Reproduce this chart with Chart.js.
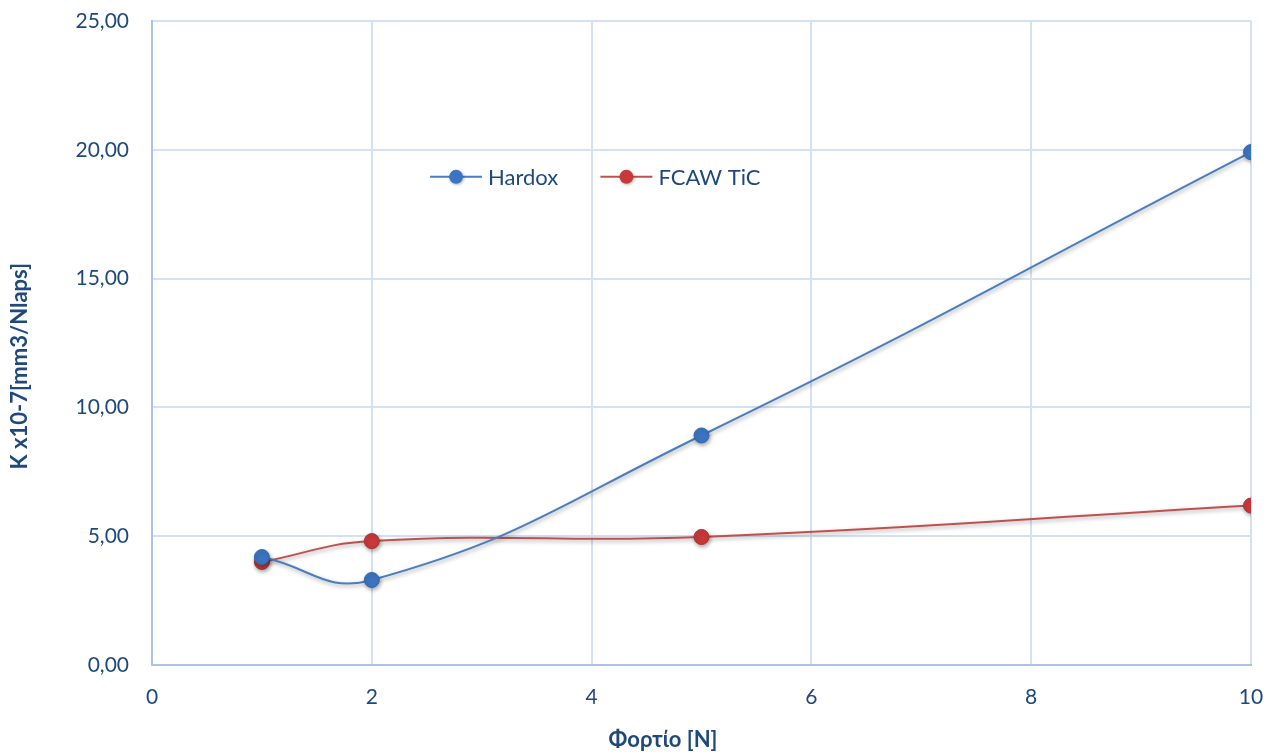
<!DOCTYPE html>
<html>
<head>
<meta charset="utf-8">
<script src="https://cdn.jsdelivr.net/npm/chart.js@4.4.1/dist/chart.umd.min.js"></script>
<style>
  html, body { margin: 0; padding: 0; background: #ffffff; }
  #wrap { width: 1273px; height: 756px; }
</style>
</head>
<body>
<div id="wrap"><canvas id="c" width="1273" height="756"></canvas></div>
<script>
// Load (N) and specific wear rate K x10^-7 [mm3/N·laps]
const loads = [1, 2, 5, 10];
const hardox = [4.19, 3.30, 8.91, 19.91];
const fcawTiC = [4.00, 4.81, 4.97, 6.19];
const seriesNames = ['Hardox', 'FCAW TiC'];
const xTitle = 'Φορτίο [N]';
const yTitle = 'K x10-7[mm3/Nlaps]';

const textColor = '#1f497d';
const gridColor = '#d4e1f4';
const axisColor = '#a9c3ea';
const fontFamily = 'Lato, "Open Sans", "DejaVu Sans", sans-serif';

const toPoints = (ys) => loads.map((x, i) => ({ x: x, y: ys[i] }));

// Soft drop shadow under lines and markers
const shadowPlugin = {
  id: 'shadow',
  beforeDatasetDraw(chart) {
    const ctx = chart.ctx;
    ctx.save();
    ctx.shadowColor = 'rgba(0,0,0,0.35)';
    ctx.shadowBlur = 4;
    ctx.shadowOffsetX = 1;
    ctx.shadowOffsetY = 2;
  },
  afterDatasetDraw(chart) {
    chart.ctx.restore();
  }
};

// Legend drawn inside the plot area, one row
const innerLegend = {
  id: 'innerLegend',
  afterDatasetsDraw(chart) {
    const ctx = chart.ctx;
    const xs = chart.scales.x, ys = chart.scales.y;
    const y = ys.getPixelForValue(18.95);
    const starts = [xs.getPixelForValue(2.53), xs.getPixelForValue(4.08)];
    ctx.save();
    chart.data.datasets.forEach((ds, i) => {
      const x0 = starts[i];
      ctx.strokeStyle = ds.borderColor;
      ctx.lineWidth = 2;
      ctx.beginPath();
      ctx.moveTo(x0, y);
      ctx.lineTo(x0 + 52, y);
      ctx.stroke();
      ctx.save();
      ctx.shadowColor = 'rgba(0,0,0,0.3)';
      ctx.shadowBlur = 3;
      ctx.shadowOffsetX = 1;
      ctx.shadowOffsetY = 1;
      ctx.fillStyle = ds.pointBackgroundColor;
      ctx.beginPath();
      ctx.arc(x0 + 26, y, 7, 0, Math.PI * 2);
      ctx.fill();
      ctx.restore();
      ctx.fillStyle = textColor;
      ctx.font = '22px ' + fontFamily;
      ctx.textAlign = 'left';
      ctx.textBaseline = 'middle';
      ctx.fillText(ds.label, x0 + 58, y + 1);
    });
    ctx.restore();
  }
};

// Axis titles
const axisTitles = {
  id: 'axisTitles',
  afterDraw(chart) {
    const ctx = chart.ctx;
    const area = chart.chartArea;
    ctx.save();
    ctx.fillStyle = textColor;
    ctx.font = 'bold 22px ' + fontFamily;
    ctx.textAlign = 'center';
    ctx.textBaseline = 'middle';
    ctx.fillText(xTitle, area.left + (area.right - area.left) * 0.465, chart.height - 16);
    ctx.translate(20, area.top + (area.bottom - area.top) * 0.536);
    ctx.rotate(-Math.PI / 2);
    ctx.fillText(yTitle, 0, 0);
    ctx.restore();
  }
};

new Chart(document.getElementById('c'), {
  type: 'line',
  data: {
    datasets: [
      {
        label: seriesNames[0],
        data: toPoints(hardox),
        borderColor: '#4a7ebf',
        borderWidth: 2,
        pointBackgroundColor: '#3b75c2',
        pointBorderColor: '#3467ad',
        pointBorderWidth: 1,
        pointRadius: 7.5,
        tension: 0.45,
        fill: false
      },
      {
        label: seriesNames[1],
        data: toPoints(fcawTiC),
        borderColor: '#c0504d',
        borderWidth: 2,
        pointBackgroundColor: '#c9393a',
        pointBorderColor: '#a83333',
        pointBorderWidth: 1,
        pointRadius: 7.5,
        tension: 0.45,
        fill: false
      }
    ]
  },
  options: {
    responsive: false,
    animation: false,
    layout: { padding: { top: 21, right: 22, left: 0, bottom: 0 } },
    plugins: {
      legend: { display: false },
      tooltip: { enabled: false }
    },
    scales: {
      x: {
        type: 'linear',
        min: 0,
        max: 10,
        ticks: {
          stepSize: 2,
          color: textColor,
          font: { family: fontFamily, size: 21 },
          padding: 0
        },
        grid: { color: gridColor, lineWidth: 2, drawTicks: true, tickLength: 20, tickColor: 'rgba(0,0,0,0)' },
        border: { color: axisColor, width: 2 },
        afterFit(s) { s.height = 91; }
      },
      y: {
        min: 0,
        max: 25,
        ticks: {
          stepSize: 5,
          color: textColor,
          font: { family: fontFamily, size: 21 },
          padding: 0,
          callback: (v) => v.toFixed(2).replace('.', ',')
        },
        grid: { color: gridColor, lineWidth: 2, drawTicks: true, tickLength: 23, tickColor: 'rgba(0,0,0,0)' },
        border: { color: axisColor, width: 2 },
        afterFit(s) { s.width = 152; }
      }
    }
  },
  plugins: [shadowPlugin, innerLegend, axisTitles]
});
</script>
</body>
</html>
